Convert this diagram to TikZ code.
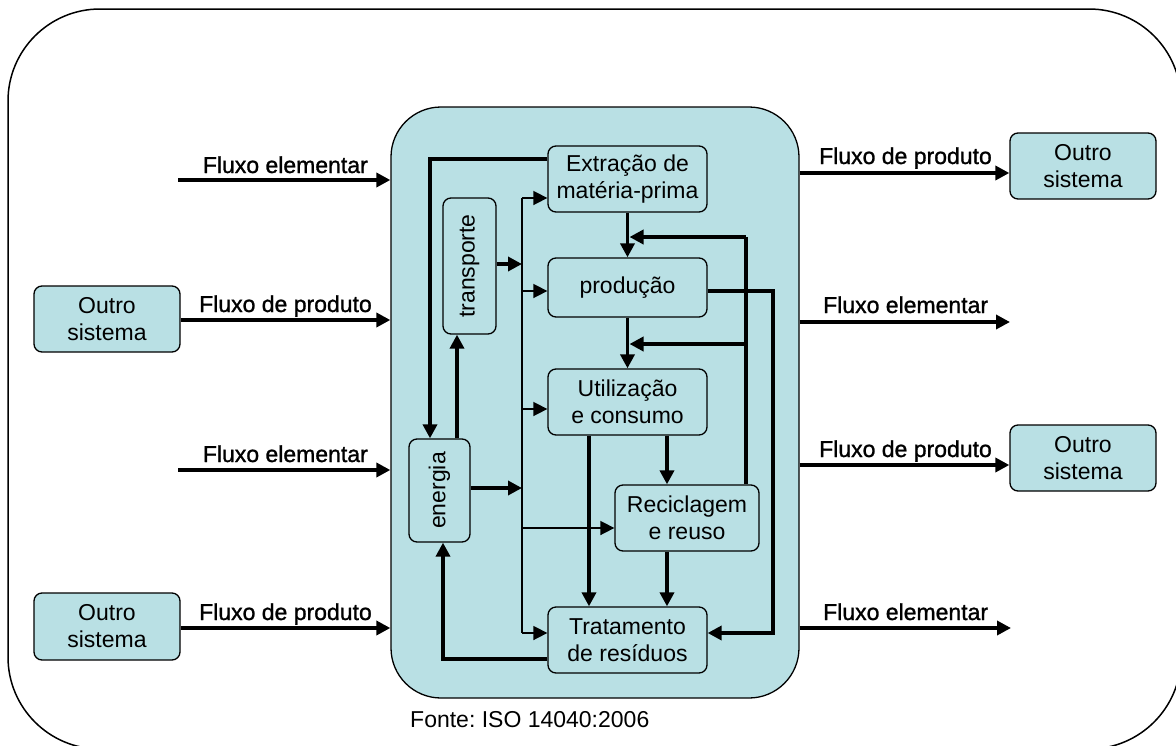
\documentclass[tikz,border=0pt]{standalone}
\usepackage{fontspec}
\setmainfont{Liberation Sans}
\newfontfamily\lblfont[FakeBold=1.2]{Liberation Sans}
\usetikzlibrary{arrows.meta}
\definecolor{boxfill}{RGB}{185,224,228}
\frenchspacing
\tikzset{
  box/.style={draw=black, line width=1.3pt, fill=boxfill, rounded corners=8pt,
    inner sep=0pt, align=center, font=\fontsize{23}{27}\selectfont},
  thk/.style={line width=3.6pt, -{Triangle[length=14pt,width=14pt]}},
  thkplain/.style={line width=3.6pt},
  thn/.style={line width=1.6pt, -{Triangle[length=14pt,width=14pt]}},
  thnplain/.style={line width=1.6pt},
  lbl/.style={font=\lblfont\fontsize{23}{27}\selectfont, inner sep=0pt},
}
\begin{document}
\begin{tikzpicture}[x=1pt,y=-1pt]
\useasboundingbox (0,0) rectangle (1176,745);

% outer frame
\draw[line width=1.5pt, rounded corners=92pt] (8,9) rectangle (1181,749);

% product system
\node[box, rounded corners=50pt, minimum width=408, minimum height=591] (main) at (595,402.5) {};

\node[box, minimum width=159, minimum height=66] (ext) at (627.5,179) {Extração de\\matéria-prima};
\node[box, minimum width=159, minimum height=59] (prod) at (627.5,287.5) {produção};
\node[box, minimum width=159, minimum height=66] (util) at (627.5,402) {Utilização\\e consumo};
\node[box, minimum width=144, minimum height=66] (rec) at (687,518) {Reciclagem\\e reuso};
\node[box, minimum width=159, minimum height=66] (trat) at (627.5,640) {Tratamento\\de resíduos};
\node[box, minimum width=53, minimum height=136] (transp) at (469.5,266) {\rotatebox{90}{transporte}};
\node[box, minimum width=61, minimum height=103] (energ) at (439.5,490.5) {\rotatebox{90}{energia}};

% other systems
\node[box, minimum width=146, minimum height=66] (oL1) at (107,319) {Outro\\sistema};
\node[box, minimum width=146, minimum height=67] (oL2) at (107,626.5) {Outro\\sistema};
\node[box, minimum width=146, minimum height=66] (oR1) at (1083,166) {Outro\\sistema};
\node[box, minimum width=146, minimum height=66] (oR2) at (1083,458) {Outro\\sistema};

% distribution bus
\coordinate (busT) at (522,198);
\coordinate (busB) at (522,633);
\draw[thnplain] (busT) -- (busB);
\draw[thn] (busT) -- (ext.west |- busT);
\draw[thn] (522,291) -- (prod.west |- 0,291);
\draw[thn] (522,409) -- (util.west |- 0,409);
\draw[thn] (522,528) -- (rec.west |- 0,528);
\draw[thn] (busB) -- (trat.west |- busB);
\draw[thk] (transp.east |- 0,264) -- (522,264);
\draw[thk] (energ.east |- 0,488) -- (522,488);

% energy loop
\draw[thk] (ext.west |- 0,159) -| (energ.north -| 430,0);
\draw[thk] (energ.north -| 457,0) -- (transp.south -| 457,0);
\draw[thk] (trat.west |- 0,659) -| (energ.south -| 443,0);

% main chain
\draw[thk] (ext.south) -- (prod.north);
\draw[thk] (prod.south) -- (util.north);
\draw[thk] (util.south -| 667,0) -- (rec.north -| 667,0);
\draw[thk] (util.south -| 589,0) -- (trat.north -| 589,0);
\draw[thk] (rec.south -| 667,0) -- (trat.north -| 667,0);

% recycling feedback
\coordinate (rk1) at (746,237);
\coordinate (rk2) at (746,344);
\draw[thkplain] (rec.north -| rk1) -- (rk1);
\draw[thk] (rk1) -- (629.5,237);
\draw[thk] (rk2) -- (629.5,344);

% production waste
\draw[thk] (prod.east |- 0,291) -| (773,633) -- (trat.east |- 0,633);

% elementary and product flows
\coordinate (inE1) at (178,180);
\coordinate (inE2) at (178,470);
\coordinate (outE1) at (1010,322);
\coordinate (outE2) at (1011,628);
\draw[thk] (inE1) -- (main.west |- inE1);
\draw[thk] (oL1.east |- 0,320) -- (main.west |- 0,320);
\draw[thk] (inE2) -- (main.west |- inE2);
\draw[thk] (oL2.east |- 0,628) -- (main.west |- 0,628);
\draw[thk] (main.east |- 0,173) -- (oR1.west |- 0,173);
\draw[thk] (main.east |- outE1) -- (outE1);
\draw[thk] (main.east |- 0,465) -- (oR2.west |- 0,465);
\draw[thk] (main.east |- outE2) -- (outE2);

\node[lbl, anchor=base east] (l1) at (368,173) {Fluxo elementar};
\node[lbl, anchor=base east] (l2) at (372,312) {Fluxo de produto};
\node[lbl, anchor=base east] (l3) at (368,462) {Fluxo elementar};
\node[lbl, anchor=base east] (l4) at (372,620) {Fluxo de produto};
\node[lbl, anchor=base west] (r1) at (819,164) {Fluxo de produto};
\node[lbl, anchor=base west] (r2) at (823,313) {Fluxo elementar};
\node[lbl, anchor=base west] (r3) at (819,457) {Fluxo de produto};
\node[lbl, anchor=base west] (r4) at (823,620) {Fluxo elementar};

\node[inner sep=0pt, anchor=base west, font=\fontsize{23}{27}\selectfont] (src) at (410,727) {Fonte: ISO 14040:2006};
\end{tikzpicture}
\end{document}
